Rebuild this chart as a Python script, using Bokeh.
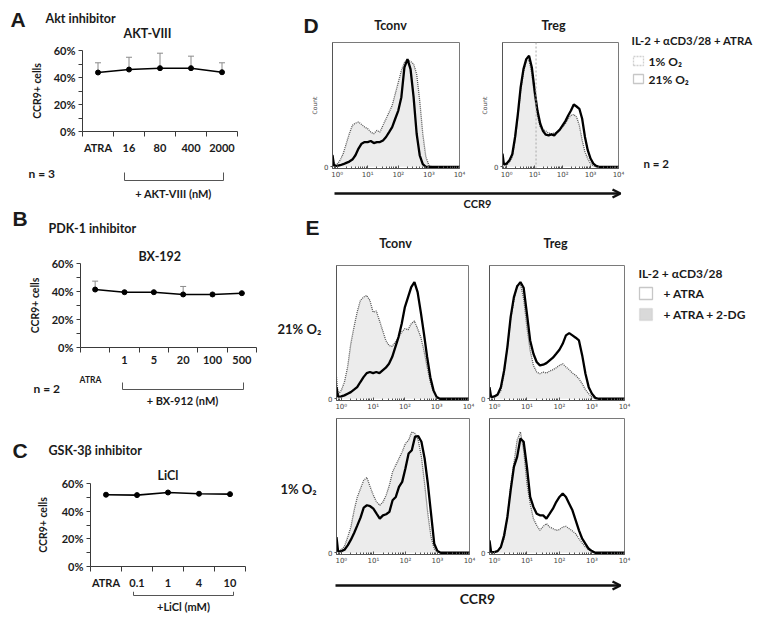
import math
from bokeh.plotting import figure
from bokeh.layouts import row, column
from bokeh.models import (Range1d, FixedTicker, Label, Arrow, OpenHead, TeeHead, Title,
                          Whisker, ColumnDataSource, PolyAnnotation, Span, Spacer)
from bokeh.embed import file_html
from bokeh.resources import INLINE

# ---------------- data ----------------
A_CATS = ["ATRA", "16", "80", "400", "2000"]
A_MEAN = [43.7, 45.9, 46.9, 46.9, 43.9]
A_ERR = [7.2, 9.1, 11.1, 8.9, 7.0]

B_CATS = ["ATRA", "1", "5", "20", "100", "500"]
B_MEAN = [41.4, 39.5, 39.5, 37.9, 37.9, 38.8]
B_ERR = [6.0, 0.0, 0.0, 5.7, 0.0, 0.0]

C_CATS = ["ATRA", "0.1", "1", "4", "10"]
C_MEAN = [51.9, 51.6, 53.5, 52.6, 52.3]

PCT_TICKS = [0, 20, 40, 60]
PCT_MINOR = [10, 30, 50]
PCT_LABELS = ["0%", "20%", "40%", "60%"]

# log10(CCR9) bins of the flow histograms
HIST_X = [-0.15, -0.1, 0.0, 0.1, 0.2, 0.3, 0.4, 0.5, 0.6, 0.7, 0.8, 0.9, 1.0, 1.1, 1.2,
          1.3, 1.4, 1.5, 1.6, 1.7, 1.8, 1.9, 2.0, 2.1, 2.2, 2.3, 2.4, 2.5, 2.6, 2.7,
          2.8, 2.9, 3.0, 3.1, 3.2, 3.3, 4.0]
HIST_TICKS = [0, 1, 2, 3, 4]
HIST_TICK_LABELS = ["10\u2070", "10\u00b9", "10\u00b2", "10\u00b3", "10\u2074"]

# D: 21% O2 (solid) vs 1% O2 (dotted), IL-2 + aCD3/28 + ATRA
D_TCONV_21 = [9.2, 1.0, 0.8, 1.3, 2.1, 3.2, 4.2, 5.8, 9.2, 14.5, 18.4, 19.7, 19.7, 20.5, 18.9,
              19.7, 19.7, 21.0, 23.7, 27.6, 31.6, 38.2, 44.7, 55.3, 78.9, 85.5, 77.6, 55.3,
              26.3, 9.2, 2.1, 0, 0, 0, 0, 0, 0]
D_TCONV_1 = [10.0, 1.5, 2.1, 5.3, 10.5, 18.4, 26.3, 32.9, 34.7, 35.5, 33.7, 31.6, 30.3, 27.6,
             26.3, 28.9, 27.6, 32.9, 38.2, 43.4, 48.7, 57.9, 67.1, 76.3, 82.9, 84.7, 83.7,
             81.6, 73.7, 52.6, 26.3, 7.9, 1.3, 0, 0, 0, 0]
D_TREG_21 = [10.5, 2.0, 2.6, 5.3, 10.0, 23.7, 42.1, 63.2, 77.6, 85.5, 88.2, 78.9, 60.5, 44.7,
             34.2, 28.4, 25.5, 25.0, 25.8, 25.0, 27.4, 29.5, 32.9, 36.3, 40.8, 44.7, 49.5,
             47.9, 46.1, 38.2, 23.7, 13.2, 6.6, 2.6, 0.8, 0, 0]
D_TREG_1 = [8.0, 1.5, 1.3, 3.9, 7.9, 21.0, 39.5, 60.5, 75.0, 84.2, 84.7, 73.7, 55.3, 40.8,
            31.6, 29.5, 28.4, 26.8, 26.3, 26.8, 27.6, 29.5, 31.6, 34.2, 38.2, 40.8, 41.6,
            39.5, 32.9, 21.1, 11.8, 6.6, 2.6, 0.8, 0, 0, 0]
D_GATE = 1.05

# E: + ATRA (solid) vs + ATRA + 2-DG (dotted)
E_TCONV_21_ATRA = [8.6, 1.5, 1.7, 2.5, 3.7, 4.9, 6.7, 8.6, 12.4, 16.0, 19.0, 19.8, 19.0, 19.8,
                   19.0, 21.0, 23.0, 25.9, 30.9, 38.3, 45.7, 55.6, 67.9, 75.3, 82.7, 86.4,
                   79.0, 64.2, 48.1, 30.9, 16.0, 6.2, 1.2, 0, 0, 0, 0]
E_TCONV_21_2DG = [16.0, 3.0, 6.2, 12.4, 23.5, 40.8, 53.1, 64.2, 72.8, 75.3, 76.5, 72.8, 64.2,
                  65.0, 58.0, 50.6, 43.2, 39.5, 38.8, 42.0, 45.7, 49.4, 51.9, 51.1, 55.6, 57.5,
                  51.9, 45.7, 35.8, 23.5, 12.4, 4.9, 1.2, 0, 0, 0, 0]
E_TREG_21_ATRA = [8.6, 1.2, 1.7, 3.2, 8.6, 21.0, 38.3, 60.5, 75.3, 83.2, 86.4, 82.2, 63.0, 43.2,
                  33.3, 27.2, 24.7, 25.2, 26.4, 28.4, 30.4, 33.3, 36.3, 40.7, 46.9, 48.6, 46.9,
                  45.2, 43.2, 32.1, 18.5, 8.6, 3.7, 0.7, 0, 0, 0]
E_TREG_21_2DG = [5.0, 1.0, 1.2, 2.5, 6.2, 18.5, 38.3, 59.3, 72.8, 84.0, 85.2, 74.1, 53.1, 35.8,
                 24.7, 19.8, 18.5, 19.8, 19.0, 20.5, 21.5, 23.0, 24.7, 25.9, 23.5, 21.5, 19.0,
                 17.3, 14.8, 11.1, 6.7, 3.7, 1.2, 0, 0, 0, 0]
E_TCONV_1_ATRA = [11.5, 1.0, 1.2, 2.2, 5.4, 9.6, 14.5, 20.1, 25.8, 33.2, 34.9, 34.2, 32.4, 28.7,
                  25.1, 27.5, 28.3, 30.0, 38.6, 41.0, 48.4, 52.1, 61.9, 73.0, 75.4, 85.3, 85.7,
                  81.6, 69.3, 50.9, 28.7, 6.6, 1.2, 0, 0, 0, 0]
E_TCONV_1_2DG = [8.0, 1.0, 2.2, 4.7, 11.5, 18.9, 31.2, 41.0, 47.2, 53.3, 55.3, 48.4, 42.3, 37.3,
                 34.9, 37.3, 42.3, 49.6, 59.5, 64.4, 69.3, 74.2, 80.3, 82.8, 88.9, 87.7, 82.8,
                 70.5, 50.9, 28.7, 11.5, 2.9, 0.5, 0, 0, 0, 0]
E_TREG_1_ATRA = [9.1, 0.5, 0.5, 1.2, 4.2, 12.8, 26.3, 45.9, 63.1, 70.5, 84.0, 81.6, 63.1, 41.0,
                 33.7, 28.7, 27.5, 27.5, 25.1, 28.7, 32.4, 37.3, 41.0, 43.5, 41.0, 36.1, 31.2,
                 23.8, 16.5, 10.3, 6.6, 2.9, 1.2, 0, 0, 0, 0]
E_TREG_1_2DG = [5.0, 0.5, 0.5, 1.7, 4.2, 10.3, 26.3, 48.4, 65.6, 82.8, 88.9, 75.4, 50.9, 36.1,
                25.1, 20.1, 16.5, 19.4, 21.4, 18.9, 17.7, 16.5, 17.0, 18.9, 19.4, 17.7, 16.0,
                14.0, 10.3, 7.1, 4.2, 2.2, 1.0, 0, 0, 0, 0]

# ---------------- styling helpers ----------------
FONT = "Lato"
LETTER_FONT = "Liberation Sans"
TICK_FONT = "DejaVu Sans"
INK = "#1a1a1a"


def no_align(p):
    try:
        p.frame_align = False
    except Exception:
        pass
    return p


def label(p, text, x, y, size, align="left", bold=True, font=FONT, color=INK):
    p.add_layout(Label(x=x, y=y, x_units="screen", y_units="screen", text=text,
                       text_font=font, text_font_size=f"{size}px",
                       text_font_style="bold" if bold else "normal",
                       text_align=align, text_baseline="middle", text_color=color))


def seg(p, x0, y0, x1, y1, width=1.0, color="#333333", head=None):
    p.add_layout(Arrow(x_start=x0, y_start=y0, x_end=x1, y_end=y1,
                       start_units="screen", end_units="screen",
                       start=None, end=head, line_color=color, line_width=width))


def bracket(p, x0, x1, ybot, ytop):
    seg(p, x0, ytop, x0, ybot, 1.0, "#555555")
    seg(p, x0, ybot, x1, ybot, 1.0, "#555555")
    seg(p, x1, ybot, x1, ytop, 1.0, "#555555")


def square(p, x0, x1, y0, y1, dash="solid", fill=None, color="#444444"):
    p.add_layout(PolyAnnotation(xs=[x0, x1, x1, x0], ys=[y0, y0, y1, y1],
                                xs_units="screen", ys_units="screen",
                                fill_color=fill, fill_alpha=1.0 if fill else 0.0,
                                line_color=color, line_width=1.3, line_dash=dash))


def blank(w, h):
    p = figure(width=w, height=h, x_range=Range1d(0, 1), y_range=Range1d(0, 1),
               output_backend="svg", toolbar_location=None, title=None,
               x_axis_location=None, y_axis_location=None,
               min_border_left=0, min_border_right=0, min_border_top=0, min_border_bottom=0)
    p.grid.visible = False
    p.outline_line_color = None
    return no_align(p)


def line_chart(cats, mean, err, w, h, left, top, fw, fh, standoff, axis_labels=None,
               title_standoff=8, title=None):
    n = len(cats)
    xs = [i + 0.5 for i in range(n)]
    p = figure(width=w, height=h, x_range=Range1d(0, n), y_range=Range1d(0, 60),
               output_backend="svg", toolbar_location=None, title=None,
               min_border_left=left, min_border_top=top,
               min_border_right=w - left - fw, min_border_bottom=h - top - fh)
    no_align(p)
    if title is not None:
        text, offset, t_standoff = title
        p.title = Title(text=text, align="left", offset=offset, standoff=t_standoff,
                        text_font=FONT, text_font_style="bold", text_font_size="12.5px",
                        text_color=INK)
    p.xgrid.visible = False
    p.ygrid.visible = False
    p.outline_line_color = None
    if err is not None:
        src = ColumnDataSource(dict(x=xs, lo=mean, hi=[m + e for m, e in zip(mean, err)]))
        p.add_layout(Whisker(source=src, base="x", lower="lo", upper="hi", lower_head=None,
                             upper_head=TeeHead(size=6, line_color="#8a8a8a", line_width=1),
                             line_color="#8a8a8a", line_width=1))
    p.line(xs, mean, line_color="black", line_width=1.6)
    p.scatter(xs, mean, size=5, color="black")

    xa = p.xaxis[0]
    ya = p.yaxis[0]
    labs = axis_labels if axis_labels is not None else cats
    xa.ticker = FixedTicker(ticks=xs, minor_ticks=list(range(n + 1)))
    xa.major_label_overrides = {x: t for x, t in zip(xs, labs)}
    xa.major_tick_out = 0
    xa.major_tick_in = 0
    xa.minor_tick_out = 5
    xa.minor_tick_in = 0
    xa.major_label_standoff = standoff
    ya.ticker = FixedTicker(ticks=PCT_TICKS, minor_ticks=PCT_MINOR)
    ya.major_label_overrides = {t: s for t, s in zip(PCT_TICKS, PCT_LABELS)}
    ya.major_tick_out = 4
    ya.major_tick_in = 0
    ya.minor_tick_out = 4
    ya.minor_tick_in = 0
    ya.major_label_standoff = 3
    ya.axis_label = "CCR9+ cells"
    ya.axis_label_standoff = title_standoff
    ya.axis_label_text_font = FONT
    ya.axis_label_text_font_style = "bold"
    ya.axis_label_text_font_size = "10.5px"
    ya.axis_label_text_color = INK
    for ax in (xa, ya):
        ax.major_label_text_font = FONT
        ax.major_label_text_font_style = "bold"
        ax.major_label_text_font_size = "11px"
        ax.major_label_text_color = INK
        ax.axis_line_color = "#3a3a3a"
        ax.major_tick_line_color = "#3a3a3a"
        ax.minor_tick_line_color = "#3a3a3a"
    return p


HIST_MINOR = [d + math.log10(k) for d in range(-1, 4) for k in range(2, 10)
              if -0.15 < d + math.log10(k) < 4]


def hist(w, h, left, top, fw, fh, solid, dotted, count_label=False):
    p = figure(width=w, height=h, x_range=Range1d(-0.15, 4.0), y_range=Range1d(-1.3, 98.7),
               output_backend="svg", toolbar_location=None, title=None,
               min_border_left=left, min_border_top=top,
               min_border_right=w - left - fw, min_border_bottom=h - top - fh)
    no_align(p)
    p.xgrid.visible = False
    p.ygrid.visible = False
    p.outline_line_color = "#7a7a7a"
    p.varea(x=HIST_X, y1=0, y2=dotted, fill_color="#ececec")
    p.line(HIST_X, dotted, line_color="#555555", line_width=1.3, line_dash="1 1")
    p.line(HIST_X, solid, line_color="black", line_width=2.3)

    xa = p.xaxis[0]
    ya = p.yaxis[0]
    xa.ticker = FixedTicker(ticks=HIST_TICKS, minor_ticks=HIST_MINOR)
    xa.major_label_overrides = {t: s for t, s in zip(HIST_TICKS, HIST_TICK_LABELS)}
    xa.major_tick_in = 3
    xa.major_tick_out = 0
    xa.minor_tick_in = 2
    xa.minor_tick_out = 0
    xa.major_label_standoff = 2
    ya.ticker = FixedTicker(ticks=[0], minor_ticks=[])
    ya.major_label_overrides = {0: "0"}
    ya.major_tick_in = 0
    ya.major_tick_out = 2
    ya.minor_tick_out = 0
    ya.major_label_standoff = 2
    if count_label:
        ya.axis_label = "Count"
        ya.axis_label_standoff = 3
        ya.axis_label_text_font = TICK_FONT
        ya.axis_label_text_font_style = "normal"
        ya.axis_label_text_font_size = "6px"
        ya.axis_label_text_color = "#444444"
    for ax in (xa, ya):
        ax.major_label_text_font = TICK_FONT
        ax.major_label_text_font_size = "7px"
        ax.major_label_text_color = "#444444"
        ax.axis_line_color = "#555555"
        ax.major_tick_line_color = "#555555"
        ax.minor_tick_line_color = "#555555"
    return p


# ---------------- left column (panels A, B, C) ----------------
ha = blank(262, 35)
label(ha, "A", 2, 24, 21, font=LETTER_FONT)
label(ha, "Akt inhibitor", 37, 25, 12.5)
label(ha, "AKT-VIII", 139, 10, 12.5, align="center")
pa = line_chart(A_CATS, A_MEAN, A_ERR, 262, 115, 74, 7, 155, 81, 4)
sa = blank(262, 42)
label(sa, "n = 3", 20, 27, 12)
bracket(sa, 116, 215, 20, 28)
label(sa, "+ AKT-VIII (nM)", 165, 7, 11, align="center")

hb = blank(262, 37)
label(hb, "B", 4, 19, 21, font=LETTER_FONT)
label(hb, "PDK-1 inhibitor", 40, 9, 12.5)
pb = line_chart(B_CATS, B_MEAN, B_ERR, 262, 135, 72, 26, 176, 84, 3,
                axis_labels=[""] + B_CATS[1:], title=("BX-192", 58, 0))
sb = blank(262, 53)
label(sb, B_CATS[0], 82, 46, 8.5, align="center")
label(sb, "n = 2", 25, 37, 12)
bracket(sb, 114, 235, 36, 43)
label(sb, "+ BX-912 (nM)", 174, 25, 11, align="center")

hc = blank(262, 39)
label(hc, "C", 4, 14, 21, font=LETTER_FONT)
label(hc, "GSK-3\u03b2 inhibitor", 40, 14, 12.5)
pc = line_chart(C_CATS, C_MEAN, None, 262, 127, 82, 19, 155, 83, 4, title_standoff=10,
                title=("LiCl", 67, 2))
sc = blank(262, 22)
bracket(sc, 125, 225, 18, 22)
label(sc, "+LiCl (mM)", 175, 7, 11, align="center")

left_col = column(ha, pa, sa, hb, pb, sb, hc, pc, sc)

# ---------------- panel D ----------------
hd = blank(358, 32)
label(hd, "D", 33, 15, 21, font=LETTER_FONT)
label(hd, "Tconv", 120, 15, 12.5, align="center")
label(hd, "Treg", 283, 15, 12.5, align="center")
dt = hist(208, 145, 62, 2, 127, 126, D_TCONV_21, D_TCONV_1, count_label=True)
dr = hist(150, 145, 18, 2, 122, 126, D_TREG_21, D_TREG_1, count_label=True)
dr.add_layout(Span(location=D_GATE, dimension="height", line_color="#aaaaaa",
                   line_dash="2 2", line_width=1))

dl = blank(125, 177)
label(dl, "IL-2 + \u03b1CD3/28 + ATRA", 3, 145, 11.4)
square(dl, 5, 15, 120, 129, dash="2 1", color="#666666")
label(dl, "1% O\u2082", 20, 124, 12)
square(dl, 5, 15, 102, 111)
label(dl, "21% O\u2082", 20, 106, 12)
label(dl, "n = 2", 15, 22, 11.5)

sd = blank(483, 27)
seg(sd, 64, 19, 350, 19, 2.5, "#111111", head=OpenHead(size=8, line_width=2.5, line_color="#111111"))
label(sd, "CCR9", 207, 9, 11, align="center")

d_block = row(column(hd, row(dt, dr)), dl)

# ---------------- panel E ----------------
he = blank(364, 51)
label(he, "E", 35, 36, 21, font=LETTER_FONT)
label(he, "Tconv", 125, 20, 12.5, align="center")
label(he, "Treg", 285, 20, 12.5, align="center")

l1 = blank(55, 153)
label(l1, "21% O\u2082", 7, 88, 13)
e1 = hist(153, 153, 8, 2, 135, 135, E_TCONV_21_ATRA, E_TCONV_21_2DG)
e2 = hist(156, 153, 10, 2, 136, 135, E_TREG_21_ATRA, E_TREG_21_2DG)

l2 = blank(55, 154)
label(l2, "1% O\u2082", 10, 82, 13)
e3 = hist(153, 154, 8, 2, 136, 136, E_TCONV_1_ATRA, E_TCONV_1_2DG)
e4 = hist(156, 154, 10, 2, 136, 136, E_TREG_1_ATRA, E_TREG_1_2DG)

el = blank(119, 204)
label(el, "IL-2 + \u03b1CD3/28", 4, 143, 12)
square(el, 5, 18, 117, 129)
label(el, "+ ATRA", 29, 123, 12)
square(el, 5, 18, 96, 108, dash="1 1", fill="#d9d9d9", color="#999999")
label(el, "+ ATRA + 2-DG", 29, 102, 12)

e_block = row(column(he, row(l1, e1, e2), row(l2, e3, e4)),
              column(el, Spacer(width=119, height=154)))

se = blank(483, 43)
seg(se, 65, 28, 350, 28, 2.5, "#111111", head=OpenHead(size=8, line_width=2.5, line_color="#111111"))
label(se, "CCR9", 207, 15, 14, align="center")

right_col = column(d_block, sd, e_block, se)

layout = column(Spacer(width=753, height=8),
                row(Spacer(width=8, height=605), left_col, right_col))

with open("out.html", "w", encoding="utf-8") as f:
    f.write(file_html(layout, INLINE))
